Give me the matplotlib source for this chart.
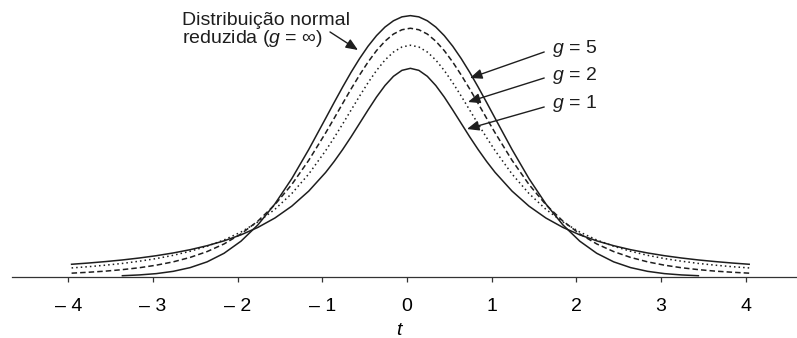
import numpy as np
import matplotlib
matplotlib.use('Agg')
import matplotlib.pyplot as plt

plt.rcParams['font.family'] = ['Liberation Sans', 'DejaVu Sans']
plt.rcParams['mathtext.fontset'] = 'custom'
plt.rcParams['mathtext.it'] = 'Liberation Sans:italic'
plt.rcParams['mathtext.rm'] = 'Liberation Sans'

# values (right half, curves are symmetric)
t_half = [0.0, 0.1, 0.2, 0.3, 0.4, 0.5, 0.6, 0.7, 0.8, 0.9, 1.0,
          1.2, 1.4, 1.6, 1.8, 2.0, 2.2, 2.4, 2.6, 2.8, 3.0, 3.2, 3.4, 3.6, 3.8, 4.0]
dens_g1 = [0.3183, 0.3152, 0.3061, 0.2920, 0.2744, 0.2546, 0.2341, 0.2136, 0.1941, 0.1759, 0.1592,
           0.1306, 0.1076, 0.0894, 0.0751, 0.0637, 0.0545, 0.0471, 0.0410, 0.0360, 0.0318,
           0.0283, 0.0253, 0.0228, 0.0206, 0.0187]
dens_g2 = [0.3536, 0.3509, 0.3432, 0.3310, 0.3150, 0.2963, 0.2758, 0.2545, 0.2331, 0.2123, 0.1925,
           0.1567, 0.1269, 0.1027, 0.0834, 0.0680, 0.0559, 0.0463, 0.0386, 0.0324, 0.0274,
           0.0234, 0.0200, 0.0173, 0.0150, 0.0131]
dens_g5 = [0.3796, 0.3773, 0.3707, 0.3598, 0.3454, 0.3279, 0.3081, 0.2868, 0.2645, 0.2419, 0.2197,
           0.1777, 0.1407, 0.1098, 0.0848, 0.0651, 0.0498, 0.0381, 0.0292, 0.0224, 0.0173,
           0.0134, 0.0105, 0.0082, 0.0065, 0.0051]
dens_norm = [0.3989, 0.3970, 0.3910, 0.3814, 0.3683, 0.3521, 0.3332, 0.3123, 0.2897, 0.2661, 0.2420,
             0.1942, 0.1497, 0.1109, 0.0790, 0.0540, 0.0355, 0.0224, 0.0136, 0.0079, 0.0044,
             0.0024, 0.0012]

tick_vals = [-4, -3, -2, -1, 0, 1, 2, 3, 4]
tick_labels = ['\u2013 4', '\u2013 3', '\u2013 2', '\u2013 1', '0', '1', '2', '3', '4']

shift = 0.04  # curves in the scan sit slightly right of zero


def mirror(half):
    half = np.asarray(half)
    return np.concatenate([half[:0:-1], half])


t_full = np.asarray(t_half)
t_all = np.concatenate([-t_full[:0:-1], t_full]) + shift
n_norm = len(dens_norm)
t_norm = np.concatenate([-t_full[1:n_norm][::-1], t_full[:n_norm]]) + shift

ink = '#1e1e1e'

fig = plt.figure(figsize=(7.97, 3.38), dpi=100)
ax = fig.add_axes([0, 61.5 / 338, 1, 276.5 / 338])
ax.set_xlim(-407 / 84.7, 390 / 84.7)
ax.set_ylim(0, 276.5 / 654)

ax.plot(t_norm, mirror(dens_norm), color=ink, lw=1.1)
ax.plot(t_all, mirror(dens_g5), color=ink, lw=1.1, dashes=(3.6, 2.0))
ax.plot(t_all, mirror(dens_g2), color=ink, lw=1.1, dashes=(1.0, 2.0))
ax.plot(t_all, mirror(dens_g1), color=ink, lw=1.1)

for s in ['top', 'left', 'right']:
    ax.spines[s].set_visible(False)
ax.spines['bottom'].set_bounds(-4.66, 4.6)
ax.spines['bottom'].set_color('#333333')
ax.spines['bottom'].set_linewidth(0.9)
ax.set_yticks([])
ax.set_xticks(tick_vals)
ax.set_xticklabels(tick_labels, fontsize=14)
ax.tick_params(axis='x', direction='out', length=3.6, width=0.9, color='#333333', pad=12)
ax.set_xlabel('t', fontsize=14, style='italic', labelpad=5)

arrow = dict(arrowstyle='-|>,head_length=0.6,head_width=0.25', color=ink, lw=1.0,
             mutation_scale=12, shrinkA=0, shrinkB=0)

ax.text(-2.656, 0.405, 'Distribuição normal\nreduzida ($g$ = \u221e)', fontsize=14,
        ha='left', va='top', linespacing=0.95, color=ink)
ax.annotate('', xy=(-0.579, 0.3463), xytext=(-0.909, 0.3739), arrowprops=arrow)

g_names = ['$g$ = 5', '$g$ = 2', '$g$ = 1']
g_text_y = [0.3425, 0.3003, 0.2575]
g_tail_y = [0.3433, 0.3035, 0.2592]
g_tip = [(0.744, 0.3035), (0.720, 0.2668), (0.708, 0.2255)]
for name, ty, tail_y, tip in zip(g_names, g_text_y, g_tail_y, g_tip):
    ax.text(1.712, ty, name, fontsize=14, ha='left', va='baseline', color=ink)
    ax.annotate('', xy=tip, xytext=(1.62, tail_y), arrowprops=arrow)

fig.savefig('out.png', dpi=100)
